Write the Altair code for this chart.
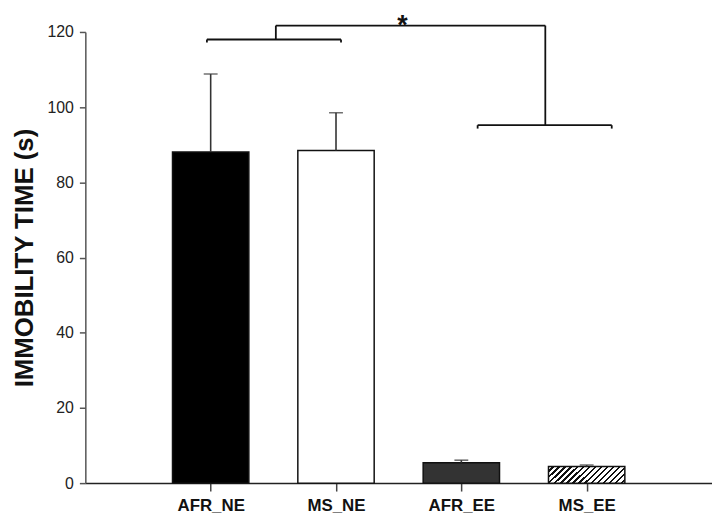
import json
import altair as alt
import pandas as pd

# ---- data ----
categories = ["AFR_NE", "MS_NE", "AFR_EE", "MS_EE"]
positions = [1, 2, 3, 4]
means = [88.1, 88.5, 5.4, 4.4]
sems = [20.7, 10.0, 0.7, 0.4]

# significance bracket segments (x in category positions, y in seconds)
seg_x = [0.97, 0.97, 2.04, 1.52, 1.52, 3.67, 3.13, 3.13, 4.20]
seg_x2 = [2.04, 0.97, 2.04, 1.52, 3.67, 3.67, 4.20, 3.13, 4.20]
seg_y = [118.0, 118.0, 118.0, 118.0, 121.7, 121.7, 95.2, 95.2, 95.2]
seg_y2 = [118.0, 117.2, 117.2, 121.7, 121.7, 95.2, 95.2, 94.3, 94.3]
star_x = [2.53]
star_y = [119.4]
star_text = ["*"]

FONT = "Liberation Sans"

df = pd.DataFrame({
    "cat": categories,
    "pos": positions,
    "mean": means,
    "top": [m + s for m, s in zip(means, sems)],
})
seg = pd.DataFrame({"x": seg_x, "x2": seg_x2, "y": seg_y, "y2": seg_y2})
star = pd.DataFrame({"x": star_x, "y": star_y, "t": star_text})

label_expr = "%s[datum.value]" % json.dumps([""] + categories)

xscale = alt.Scale(domain=[0, 5], nice=False, zero=False, padding=0)
yscale = alt.Scale(domain=[0, 120], nice=False)

x_axis = alt.Axis(
    values=positions, labelExpr=label_expr, title=None, grid=False,
    domainColor="#222", domainWidth=1.5, tickColor="#444", tickSize=8,
    tickWidth=1.5, labelFont=FONT, labelFontSize=17, labelFontWeight="bold",
    labelColor="#111", labelPadding=7,
)
y_axis = alt.Axis(
    values=[0, 20, 40, 60, 80, 100, 120], title="IMMOBILITY TIME (s)",
    grid=False, domainColor="#555", domainWidth=1.5, tickColor="#555",
    tickSize=6, tickWidth=1.5, labelFont=FONT, labelFontSize=16,
    labelColor="#222", labelPadding=6, titleFont=FONT, titleFontSize=26,
    titleFontWeight="bold", titleColor="#111", titlePadding=10,
)

base = alt.Chart(df)
X = alt.X("pos:Q", scale=xscale, axis=x_axis)
Y = alt.Y("mean:Q", scale=yscale, axis=y_axis)

# hatch gradient for MS_EE ("/" stripes)
period = 0.062
stops = []
k = 0
while k * period < 1.0:
    o = k * period
    stops += [
        alt.GradientStop(offset=round(o, 4), color="white"),
        alt.GradientStop(offset=round(min(o + period * 0.62, 1), 4), color="white"),
        alt.GradientStop(offset=round(min(o + period * 0.62, 1), 4), color="#111"),
        alt.GradientStop(offset=round(min(o + period, 1), 4), color="#111"),
    ]
    k += 1
hatch = alt.LinearGradient(gradient="linear", stops=stops, x1=0, y1=0, x2=1.22, y2=0.27)

fills = {"AFR_NE": "black", "MS_NE": "white", "AFR_EE": "#333333", "MS_EE": hatch}

bar_layers = []
for c in categories:
    bar_layers.append(
        base.transform_filter(alt.datum.cat == c)
        .mark_bar(size=77, fill=fills[c], stroke="#111", strokeWidth=1.5)
        .encode(x=X, y=Y)
    )

err_rule = base.mark_rule(color="#333", strokeWidth=1.6).encode(
    x="pos:Q", y="mean:Q", y2="top:Q"
)
err_cap = base.mark_tick(color="#333", thickness=1.6, size=14, orient="horizontal").encode(
    x="pos:Q", y="top:Q"
)

brackets = alt.Chart(seg).mark_rule(color="#111", strokeWidth=1.8).encode(
    x="x:Q", x2="x2:Q", y="y:Q", y2="y2:Q"
)
star_mark = alt.Chart(star).mark_text(
    font=FONT, fontSize=27, fontWeight="bold", color="#111", baseline="alphabetic"
).encode(x="x:Q", y="y:Q", text="t:N")

chart = alt.layer(*bar_layers, err_rule, err_cap, brackets, star_mark).properties(
    width=632, height=455,
    autosize=alt.AutoSizeParams(type="none"),
    padding={"left": 78, "top": 22, "right": 0, "bottom": 32},
).configure(background="white").configure_view(stroke=None)

chart.save("out.html", embed_options={"renderer": "svg", "actions": False})
